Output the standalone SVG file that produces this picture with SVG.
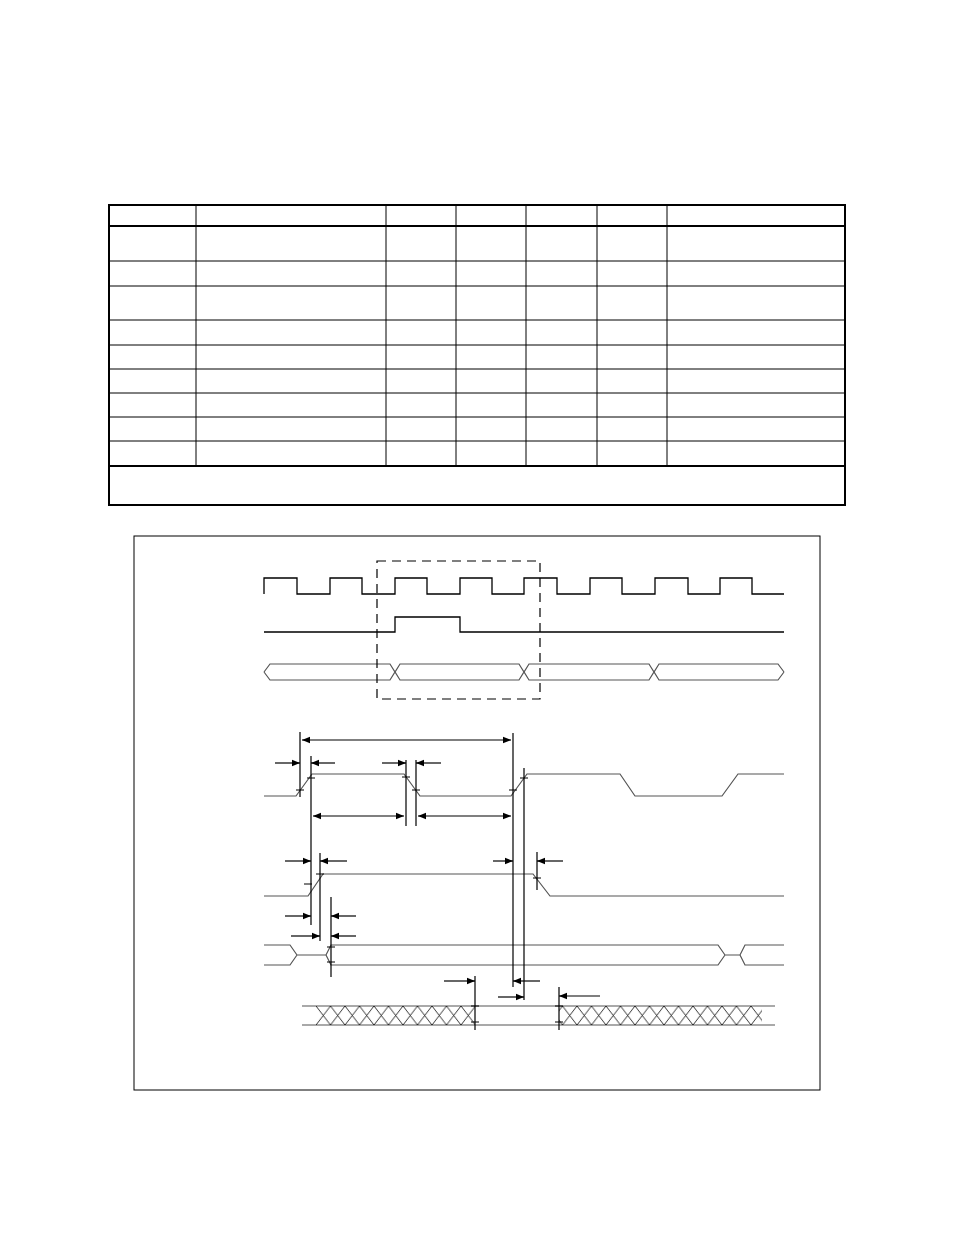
<svg xmlns="http://www.w3.org/2000/svg" width="954" height="1235" viewBox="0 0 954 1235">
<defs>
<marker id="a" viewBox="0 0 10 10" refX="10" refY="5" markerWidth="8" markerHeight="8" markerUnits="userSpaceOnUse" orient="auto"><path d="M0,1L10,5L0,9z" fill="#000"/></marker>
<marker id="s" viewBox="0 0 10 10" refX="0" refY="5" markerWidth="8" markerHeight="8" markerUnits="userSpaceOnUse" orient="auto"><path d="M10,1L0,5L10,9z" fill="#000"/></marker>
<pattern id="x" x="316" y="1006" width="14.5" height="19" patternUnits="userSpaceOnUse"><path d="M0,0L14.5,19M14.5,0L0,19" stroke="#000" stroke-width="0.8" fill="none"/></pattern>
</defs>
<style>
.t{fill:none;stroke:#000;stroke-width:1}
.tk{fill:none;stroke:#000;stroke-width:2}
.w{fill:none;stroke:#000;stroke-width:1.3}
.g{fill:none;stroke:#555;stroke-width:1.2}
.d{fill:none;stroke:#000;stroke-width:1.2}
.r{fill:none;stroke:#000;stroke-width:1.2;marker-end:url(#a)}
.b{fill:none;stroke:#000;stroke-width:1.2;marker-start:url(#s);marker-end:url(#a)}
</style>
<rect width="954" height="1235" fill="#fff"/>
<g id="table">
<rect x="109" y="205" width="736" height="300" class="tk"/>
<path class="t" d="M196,205V466M386,205V466M456,205V466M526,205V466M597,205V466M667,205V466M109,261H845M109,286H845M109,320H845M109,345H845M109,369H845M109,393H845M109,417H845M109,441H845"/>
<path class="tk" d="M109,226H845M109,466H845"/>
</g>
<rect id="frame" x="134" y="536" width="686" height="554" class="t"/>
<g id="overview">
<path class="w" d="M264,594V578H297V594H330V578H362V594H395V578H427V594H460V578H492V594H524V578H557V594H590V578H622V594H655V578H688V594H720V578H752V594H784"/>
<path class="w" d="M264,632H395V617H460V632H784"/>
<path class="g" d="M264,672L270,664H390L395,672L400,664H519L524,672L529,664H649L654,672L659,664H778L784,672M264,672L270,680H390L395,672L400,680H519L524,672L529,680H649L654,672L659,680H778L784,672"/>
<rect x="377" y="561" width="163" height="138" fill="none" stroke="#000" stroke-width="1.2" stroke-dasharray="9,6"/>
</g>
<g id="sigA"><path class="g" d="M264,796H296L312,774H404L420,796H511L527,774H620L635,796H722L738,774H784"/></g>
<g id="sigB"><path class="g" d="M264,896H308L323,874H533L550,896H784"/></g>
<g id="sigC"><path class="g" d="M264,945H290L297,955H326L331,945H718L725,955H740L745,945H784M264,965H290L297,955M326,955L331,965H718L725,955M740,955L745,965H784"/></g>
<g id="sigD">
<path class="g" d="M302,1006H775M302,1025H775"/>
<rect x="316" y="1006" width="159" height="19" fill="url(#x)"/>
<rect x="559" y="1006" width="203" height="19" fill="url(#x)"/>
</g>
<g id="connectors">
<path class="d" d="M300,732V797M311,756V925M406,760V826M416,760V826M513,733V987M524,768V1000M320,853V941M537,852V890M331,897V977M475,976V1030M559,987V1030"/>
<path class="t" d="M296,790H304M307,778H315M402,777H410M412,790H420M509,790H517M520,778H528M304,884H312M316,874H324M533,878H541M327,947H335M327,962H335M471,1006H479M471,1022H479M555,1006H563M555,1022H563"/>
<path class="b" d="M302,740H511"/>
<path class="b" d="M313,816H404"/>
<path class="b" d="M418,816H511"/>
<path class="r" d="M275,763H300"/><path class="r" d="M382,763H406"/><path class="r" d="M285,861H311"/><path class="r" d="M493,861H513"/>
<path class="r" d="M285,916H311"/><path class="r" d="M291,936H320"/><path class="r" d="M444,981H475"/><path class="r" d="M498,997H524"/>
<path class="r" d="M335,763H311"/><path class="r" d="M441,763H416"/><path class="r" d="M347,861H320"/><path class="r" d="M563,861H537"/>
<path class="r" d="M356,916H331"/><path class="r" d="M356,936H331"/><path class="r" d="M540,981H513"/><path class="r" d="M600,996H559"/>
</g>
</svg>
